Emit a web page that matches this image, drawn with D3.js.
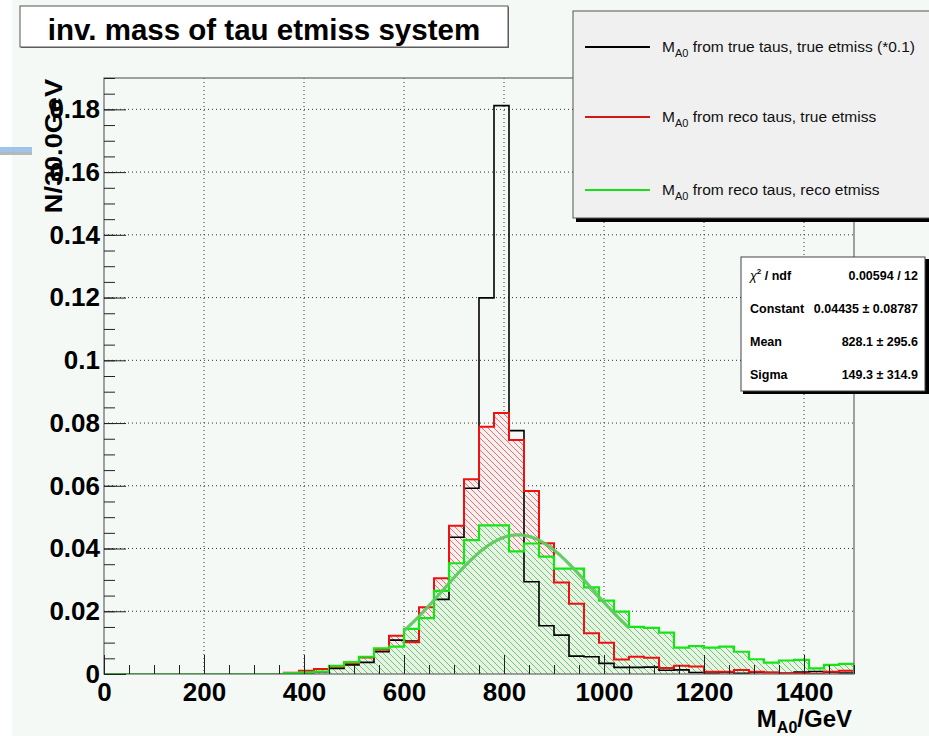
<!DOCTYPE html>
<html>
<head>
<meta charset="utf-8">
<script src="https://cdn.jsdelivr.net/npm/d3@7"></script>
<style>
  html, body { margin: 0; padding: 0; background: #ffffff; }
  svg { display: block; font-family: "Liberation Sans", Arial, Helvetica, sans-serif; }
</style>
</head>
<body>
<svg id="chart" width="929" height="736"></svg>
<script>
// ---- data: 50 bins of 30 GeV from 0 to 1500 GeV, normalised counts ----
const binWidth = 30;
const nBins = 50;

// true taus, true etmiss (scaled by 0.1)
const trueTrue = [
  0, 0, 0, 0, 0, 0, 0, 0, 0, 0, 0, 0,
  0.0002, 0.0004, 0.0007, 0.0018, 0.0029, 0.0037, 0.0071, 0.0108, 0.0105, 0.0178,
  0.0238, 0.0436, 0.0592, 0.1199, 0.1812, 0.0776, 0.0294, 0.0154, 0.0124, 0.0057,
  0.0055, 0.0034, 0.0021, 0.0021, 0.0022, 0.0012, 0.0013, 0.0005, 0.0003, 0.0005,
  0.0002, 0.0005, 0.0005, 0.0002, 0.0006, 0.0008, 0.0005, 0.0003
];
// reco taus, true etmiss
const recoTrue = [
  0, 0, 0, 0, 0, 0, 0, 0, 0, 0, 0, 0,
  0.0004, 0.0010, 0.0016, 0.0023, 0.0034, 0.0053, 0.0077, 0.0122, 0.0101, 0.0213,
  0.0305, 0.0473, 0.0621, 0.0788, 0.0832, 0.0746, 0.0583, 0.0417, 0.0292, 0.0224,
  0.0130, 0.0100, 0.0046, 0.0055, 0.0052, 0.0019, 0.0026, 0.0024, 0.0007, 0.0007,
  0.0013, 0.0007, 0.0005, 0.0002, 0.0002, 0.0001, 0.0007, 0.0010
];
// reco taus, reco etmiss
const recoReco = [
  0, 0, 0, 0, 0, 0, 0, 0, 0, 0, 0, 0,
  0.0003, 0.0005, 0.0008, 0.0026, 0.0038, 0.0055, 0.0082, 0.0087, 0.0144, 0.0178,
  0.0265, 0.0353, 0.0427, 0.0474, 0.0474, 0.0391, 0.0416, 0.0374, 0.0336, 0.0336,
  0.0276, 0.0234, 0.0199, 0.0150, 0.0147, 0.0132, 0.0084, 0.0089, 0.0084, 0.0087,
  0.0071, 0.0047, 0.0036, 0.0043, 0.0045, 0.0018, 0.0029, 0.0032
];

// gaussian fit to the reco/reco histogram
const fitConstant = 0.04435;
const fitMean = 828.1;
const fitSigma = 149.3;
const fitRange = [600, 1050];

const statsRows = [
  ["χ² / ndf", "0.00594 / 12"],
  ["Constant", "0.04435 ± 0.08787"],
  ["Mean", "828.1 ± 295.6"],
  ["Sigma", "149.3 ± 314.9"]
];

const legendLabels = [
  " from true taus, true etmiss (*0.1)",
  " from reco taus, true etmiss",
  " from reco taus, reco etmiss"
];

const xTicks = [0, 200, 400, 600, 800, 1000, 1200, 1400];
const xTickLabels = ["0", "200", "400", "600", "800", "1000", "1200", "1400"];
const yTicks = [0, 0.02, 0.04, 0.06, 0.08, 0.10, 0.12, 0.14, 0.16, 0.18];
const yTickLabels = ["0", "0.02", "0.04", "0.06", "0.08", "0.1", "0.12", "0.14", "0.16", "0.18"];

const titleText = "inv. mass of tau etmiss system";

// ---- layout ----
const frame = { left: 104, right: 854, top: 78, bottom: 674 };
const svg = d3.select("#chart");
const FONT = '"Liberation Sans", Arial, Helvetica, sans-serif';

const x = d3.scaleLinear().domain([0, binWidth * nBins]).range([frame.left, frame.right]);
const y = d3.scaleLinear().domain([0, 0.19]).range([frame.bottom, frame.top]);

// canvas background
svg.append("rect").attr("x", 12).attr("y", 0).attr("width", 917).attr("height", 736).attr("fill", "#f4f9f6");
// small bar at the left edge
svg.append("rect").attr("x", 0).attr("y", 147).attr("width", 32).attr("height", 5).attr("fill", "#9fc4ea");
svg.append("rect").attr("x", 0).attr("y", 152).attr("width", 32).attr("height", 3).attr("fill", "#b4b8bc");

// hatch patterns
const defs = svg.append("defs");
function hatch(id, bg, fg) {
  const s = 6;
  const p = defs.append("pattern").attr("id", id)
    .attr("patternUnits", "userSpaceOnUse").attr("width", s).attr("height", s);
  p.append("rect").attr("width", s).attr("height", s).attr("fill", bg);
  p.append("path").attr("d", `M-1,-1 L${s + 1},${s + 1} M-1,${s - 1} L1,${s + 1} M${s - 1},-1 L${s + 1},1`)
    .attr("stroke", fg).attr("stroke-width", 0.9);
}
hatch("hatchRed", "#f8eeee", "#d66a6a");
hatch("hatchGreen", "#e6f4e4", "#6cbb6c");
defs.append("clipPath").attr("id", "frameClip").append("rect")
  .attr("x", frame.left).attr("y", frame.top)
  .attr("width", frame.right - frame.left).attr("height", frame.bottom - frame.top);

// grid (dotted, at major ticks)
const grid = svg.append("g").attr("stroke", "#333").attr("stroke-width", 1).attr("stroke-dasharray", "1,3");
xTicks.filter(v => v > 0).forEach(v => {
  grid.append("line").attr("x1", x(v)).attr("x2", x(v)).attr("y1", frame.top).attr("y2", frame.bottom);
});
yTicks.filter(v => v > 0).forEach(v => {
  grid.append("line").attr("x1", frame.left).attr("x2", frame.right).attr("y1", y(v)).attr("y2", y(v));
});

// histogram geometry
function stepPoints(values) {
  const pts = [[x(0), y(0)]];
  values.forEach((v, i) => {
    pts.push([x(i * binWidth), y(v)]);
    pts.push([x((i + 1) * binWidth), y(v)]);
  });
  pts.push([x(nBins * binWidth), y(0)]);
  return pts;
}
const line = d3.line();

const plot = svg.append("g").attr("clip-path", "url(#frameClip)");
plot.append("path").attr("d", line(stepPoints(recoTrue)) + "Z").attr("fill", "url(#hatchRed)");
plot.append("path").attr("d", line(stepPoints(recoReco)) + "Z").attr("fill", "url(#hatchGreen)");
plot.append("path").attr("d", line(stepPoints(trueTrue))).attr("fill", "none")
  .attr("stroke", "#000").attr("stroke-width", 1.6);
plot.append("path").attr("d", line(stepPoints(recoTrue))).attr("fill", "none")
  .attr("stroke", "#f01010").attr("stroke-width", 2);
plot.append("path").attr("d", line(stepPoints(recoReco))).attr("fill", "none")
  .attr("stroke", "#14e614").attr("stroke-width", 2.2);

// fit curve
const fitX = d3.range(fitRange[0], fitRange[1] + 0.1, 5);
const gauss = m => fitConstant * Math.exp(-0.5 * Math.pow((m - fitMean) / fitSigma, 2));
plot.append("path")
  .attr("d", d3.line().x(m => x(m)).y(m => y(gauss(m))).curve(d3.curveMonotoneX)(fitX))
  .attr("fill", "none").attr("stroke", "#5cca5c").attr("stroke-width", 3.2).attr("stroke-opacity", 0.95);

// frame
svg.append("rect").attr("x", frame.left).attr("y", frame.top)
  .attr("width", frame.right - frame.left).attr("height", frame.bottom - frame.top)
  .attr("fill", "none").attr("stroke", "#666").attr("stroke-width", 1.2);

// axes: inward ticks, major + minor
const xMinor = d3.range(0, 1501, 50);
const yMinor = d3.range(0, 0.1901, 0.005);

svg.append("g").attr("transform", `translate(0,${frame.bottom})`)
  .call(d3.axisBottom(x).tickValues(xTicks).tickSize(-19).tickPadding(9)
    .tickFormat((d, i) => xTickLabels[i]));
svg.append("g").attr("transform", `translate(0,${frame.bottom})`)
  .call(d3.axisBottom(x).tickValues(xMinor).tickSize(-9).tickFormat(""));
svg.append("g").attr("transform", `translate(${frame.left},0)`)
  .call(d3.axisLeft(y).tickValues(yTicks).tickSize(-22).tickPadding(4)
    .tickFormat((d, i) => yTickLabels[i]));
svg.append("g").attr("transform", `translate(${frame.left},0)`)
  .call(d3.axisLeft(y).tickValues(yMinor).tickSize(-11).tickFormat(""));

svg.selectAll(".domain").remove();
svg.selectAll(".tick line").attr("stroke", "#222").attr("stroke-width", 1);
svg.selectAll(".tick text").attr("font-family", FONT).attr("font-weight", "bold")
  .attr("font-size", 26).attr("fill", "#000");

// axis titles
svg.append("text").attr("transform", "translate(62,79) rotate(-90) scale(1.18,1)")
  .attr("text-anchor", "end").attr("font-family", FONT).attr("font-weight", "bold")
  .attr("font-size", 23).text("N/30.0GeV");

const xt = svg.append("text").attr("x", 852).attr("y", 727).attr("text-anchor", "end")
  .attr("font-family", FONT).attr("font-weight", "bold").attr("font-size", 24);
xt.append("tspan").text("M");
xt.append("tspan").attr("font-size", 16).attr("dy", 6).text("A0");
xt.append("tspan").attr("dy", -6).text("/GeV");

// title box
svg.append("rect").attr("x", 21).attr("y", 7).attr("width", 488).attr("height", 41)
  .attr("fill", "#666");
svg.append("rect").attr("x", 20).attr("y", 6).attr("width", 488).attr("height", 41)
  .attr("fill", "#ffffff").attr("stroke", "#555").attr("stroke-width", 1);
svg.append("text").attr("x", 264).attr("y", 40).attr("text-anchor", "middle")
  .attr("font-family", FONT).attr("font-weight", "bold").attr("font-size", 29.5)
  .text(titleText);

// legend
const legendColors = ["#000000", "#d01818", "#18e018"];
const legendY = [47, 117, 190];
svg.append("rect").attr("x", 576).attr("y", 14).attr("width", 360).attr("height", 208).attr("fill", "#000");
svg.append("rect").attr("x", 573).attr("y", 11).attr("width", 360).attr("height", 207)
  .attr("fill", "#f0f0f0").attr("stroke", "#555").attr("stroke-width", 1);
legendLabels.forEach((lab, i) => {
  svg.append("line").attr("x1", 585).attr("x2", 650).attr("y1", legendY[i]).attr("y2", legendY[i])
    .attr("stroke", legendColors[i]).attr("stroke-width", 2);
  const t = svg.append("text").attr("x", 662).attr("y", legendY[i] + 5)
    .attr("font-family", FONT).attr("font-size", 15.5).attr("fill", "#111");
  t.append("tspan").text("M");
  t.append("tspan").attr("font-size", 11).attr("dy", 5).text("A0");
  t.append("tspan").attr("dy", -5).text(lab);
});

// fit statistics box
svg.append("rect").attr("x", 743).attr("y", 259).attr("width", 186).attr("height", 135).attr("fill", "#000");
svg.append("rect").attr("x", 741).attr("y", 257).attr("width", 184).attr("height", 134)
  .attr("fill", "#ffffff").attr("stroke", "#444").attr("stroke-width", 1);
const statsY = [275, 308, 341, 374];
statsRows.forEach((r, i) => {
  const l = svg.append("text").attr("x", 750).attr("y", statsY[i] + 4.5)
    .attr("font-family", FONT).attr("font-weight", "bold").attr("font-size", 12.5);
  if (i === 0) {
    l.append("tspan").attr("font-weight", "normal").attr("font-style", "italic").text("χ");
    l.append("tspan").attr("font-size", 8).attr("dy", -6).text("2");
    l.append("tspan").attr("dy", 6).text(" / ndf");
  } else {
    l.text(r[0]);
  }
  svg.append("text").attr("x", 918).attr("y", statsY[i] + 4.5).attr("text-anchor", "end")
    .attr("font-family", FONT).attr("font-weight", "bold").attr("font-size", 12.5).text(r[1]);
});
</script>
</body>
</html>
